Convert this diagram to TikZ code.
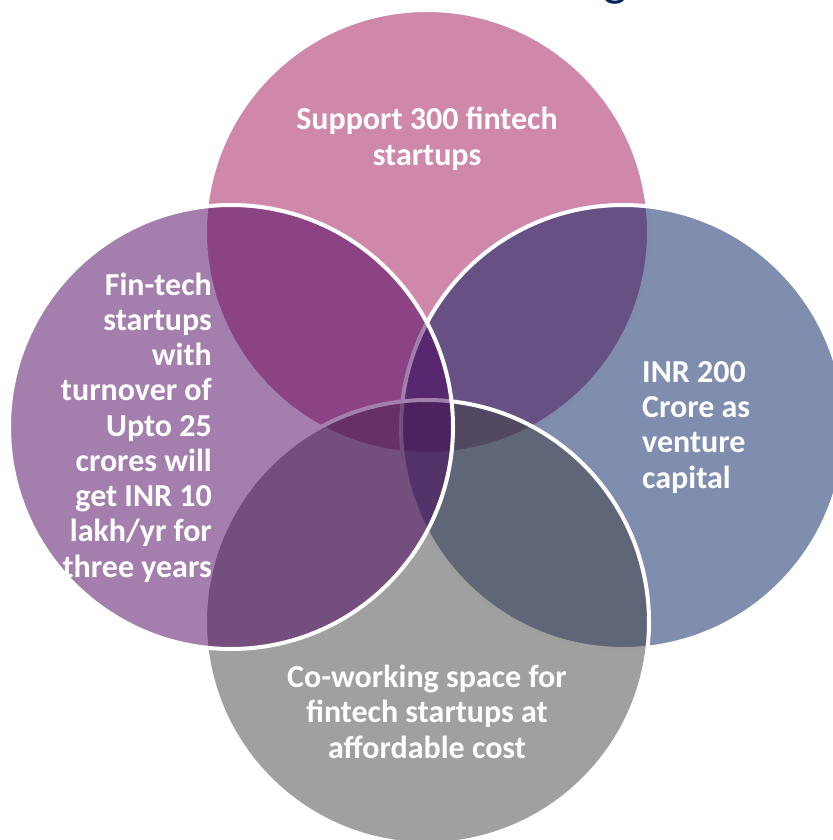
\documentclass[tikz,border=0pt]{standalone}
\usepackage{fontspec}
\setmainfont{Carlito}
\usetikzlibrary{positioning}
\definecolor{supportpink}{RGB}{159,15,85}
\definecolor{capitalblue}{RGB}{0,27,95}
\definecolor{spacegray}{RGB}{65,65,65}
\definecolor{grantpurple}{RGB}{73,0,93}
\definecolor{titleblue}{RGB}{0,32,96}

\begin{document}
\begin{tikzpicture}[x=1pt,y=-1pt,
    venn/.style={circle,draw=white,line width=4pt,fill opacity=0.5,minimum size=444pt,inner sep=0pt},
    vtext/.style={text=white,font=\bfseries\fontsize{32}{35.25}\selectfont,inner sep=0pt}]
  \useasboundingbox (0,0) rectangle (832,840);
  % title cut off at the top edge
  \node[anchor=base,text=titleblue,inner sep=0pt,font=\fontsize{51}{60}\selectfont] (title) at (615,-4) {g};
  % the four circles, drawn top, right, bottom, left
  \node[venn,fill=supportpink] (support) at (427,232) {};
  \node[venn,fill=capitalblue] (capital) at (623,427) {};
  \node[venn,fill=spacegray] (space) at (427,622) {};
  \node[venn,fill=grantpurple] (grant) at (231,427) {};
  % texts (base = baseline of the last line)
  \node[vtext,align=center,anchor=base] (supporttext) at (427,165) {Support 300 fintech\\startups};
  \node[vtext,align=left,anchor=base west] (capitaltext) at (642,488) {INR 200\\Crore as\\venture\\capital};
  \node[vtext,align=center,anchor=base] (spacetext) at (427,758) {Co-working space for\\fintech startups at\\affordable cost};
  \node[vtext,align=right,anchor=base east] (granttext) at (212,577) {Fin-tech\\startups\\with\\turnover of\\Upto 25\\crores will\\get INR 10\\lakh/yr for\\three years};
\end{tikzpicture}
\end{document}
